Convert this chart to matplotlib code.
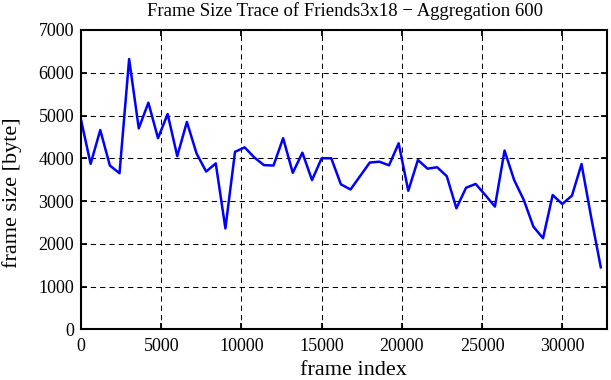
import numpy as np
import matplotlib
matplotlib.use("Agg")
import matplotlib.pyplot as plt

# frame size trace, one value every 600 frames
agg = 600
frame_size = [4900, 3870, 4660, 3830, 3650, 6320, 4700, 5300, 4470, 5035,
              4050, 4850, 4115, 3690, 3880, 2360, 4150, 4255, 4020, 3840,
              3830, 4470, 3660, 4130, 3490, 4000, 4000, 3390, 3270, 3585,
              3900, 3920, 3835, 4350, 3240, 3960, 3757, 3790, 3580, 2830,
              3310, 3400, 3140, 2870, 4180, 3490, 3025, 2400, 2130, 3140,
              2930, 3125, 3865, 2620, 1450]
frame_index = np.arange(len(frame_size)) * agg

x_ticks = [0, 5000, 10000, 15000, 20000, 25000, 30000]
y_ticks = [0, 1000, 2000, 3000, 4000, 5000, 6000, 7000]

plt.rcParams['font.family'] = ['Liberation Serif', 'DejaVu Serif']
plt.rcParams['lines.scale_dashes'] = False

W, H = 611, 380
fig = plt.figure(figsize=(W / 100, H / 100), dpi=100)
ax = fig.add_axes([81 / W, 1 - 329.3 / H, (606.7 - 81) / W, (329.3 - 30) / H])

ax.plot(frame_index, frame_size, color='#0000ff', linewidth=1.8)

ax.set_xlim(0, 32768)
ax.set_ylim(0, 7000)
ax.set_xticks(x_ticks)
ax.set_yticks(y_ticks)
ax.grid(True, color='black', linestyle=(0, (3.8, 2.9)), linewidth=0.75)
ax.tick_params(direction='in', top=True, right=True, length=4.5, width=1.3,
               labelsize=13)
ax.tick_params(axis='x', pad=6)
ax.tick_params(axis='y', pad=5)
for s in ax.spines.values():
    s.set_linewidth(1.5)

# labels and title placed in figure pixels to match the original layout
fig.text(353 / W, 1 - 375 / H, "frame index", fontsize=16,
         ha='center', va='baseline')
fig.text(12 / W, 1 - 193 / H, "frame size [byte]", fontsize=16,
         ha='center', va='center', rotation=90)
fig.text(345 / W, 1 - 15.5 / H, "Frame Size Trace of Friends3x18 \u2212 Aggregation 600",
         fontsize=13.5, ha='center', va='baseline')

fig.savefig("out.png", dpi=100)
